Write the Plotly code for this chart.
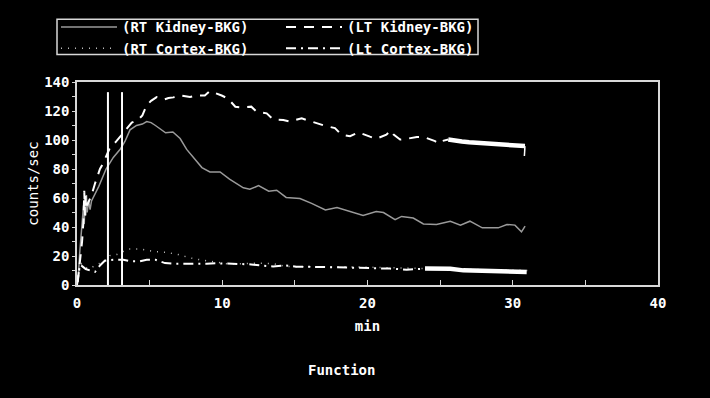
import plotly.graph_objects as go

# ---------------- data ----------------
rt_kidney_x = [0, 0.1, 0.2, 0.3, 0.4, 0.45, 0.5, 0.55, 0.6, 0.65, 0.7, 0.8, 0.9, 1.0, 1.5, 2.0, 2.5, 3.0,
               3.3, 3.65, 4.1, 4.5, 4.8, 5.1, 5.4, 5.8, 6.1, 6.6, 7.1, 7.55, 8.1, 8.6, 9.15, 9.85, 10.5,
               11.0, 11.45, 11.9, 12.5, 13.2, 13.75, 14.4, 15.35, 16.15, 17.1, 17.9, 18.8, 19.7, 20.6,
               21.1, 21.9, 22.35, 23.15, 23.85, 24.75, 25.7, 26.4, 27.05, 27.9, 29.0, 29.6, 30.15,
               30.6, 30.85]
rt_kidney_y = [0, 8, 24, 38, 46, 55, 42, 60, 48, 62, 50, 58, 52, 58, 68, 80, 88, 94,
               99, 107, 110, 111, 112.7, 112, 110, 107, 105, 105.5, 101, 93.5, 87, 81, 78, 78, 73,
               70, 67, 66, 68.5, 64.7, 65.4, 60.4, 59.7, 56.3, 51.8, 53.4, 50.7, 48, 50.7,
               50, 45, 47.3, 46.2, 42.1, 41.7, 44, 41.3, 44, 39.4, 39.4, 41.7, 41.3,
               36.7, 40.6]

lt_kidney_x = [0.05, 0.2, 0.35, 0.45, 0.5, 0.55, 0.6, 0.7, 0.85, 1.0, 1.24, 1.58, 1.8, 2.27, 2.7, 3.07,
               3.4, 3.77, 4.2, 4.5, 4.8, 5.1, 5.48, 5.95, 6.3, 6.63, 7.1, 7.78, 8.24, 8.8, 9.15, 9.96,
               10.4, 10.9, 11.34, 12.0, 12.37, 13.06, 13.5, 14.2, 14.66, 15.47, 15.8, 16.6, 17.07,
               17.76, 18.2, 18.8, 19.37, 20.17, 20.6, 21.3, 21.6, 21.8, 22.24, 22.7, 23.4, 23.85,
               24.65, 24.9, 25.1, 25.56]
lt_kidney_y = [2, 15, 30, 45, 65, 48, 62, 55, 58, 62, 70, 80, 84, 94.7, 99, 103.7,
               108, 112, 113.8, 117, 124, 127, 129.6, 127.8, 129, 129.4, 130.7, 129.6, 130.7, 130.7,
               133.7, 130.7, 128.5, 122.9, 122.4, 123, 119.5, 118.4, 114.3, 113.8, 112.7, 115, 113.8,
               111, 109.8, 108.2, 103.7, 102.6, 105.3, 102.3, 100.8, 103.7, 106.6, 103.7, 100.3,
               100.8, 102.1, 102.1, 99.2, 97.6, 99.2, 100.3]
# densely sampled tail of LT Kidney (drawn as a thick band)
lt_kidney_tail_x = [25.56, 26.0, 26.5, 27.0, 27.5, 28.0, 28.5, 29.0, 29.5, 30.0, 30.5, 30.84]
lt_kidney_tail_y = [100.3, 99.5, 99.0, 98.5, 98.2, 97.8, 97.5, 97.0, 96.5, 96.2, 95.8, 95.8]
lt_kidney_end_x = [30.84, 30.8]
lt_kidney_end_y = [95.8, 89]

rt_cortex_x = [0, 0.1, 0.2, 0.32, 0.6, 0.9, 1.24, 1.58, 2.04, 2.27, 2.73, 3.53, 4.34, 5.25, 6.17, 6.97,
               7.78, 8.47, 9.4, 10.3, 11.2, 12.6, 13.5, 14.4, 15.1, 17, 19, 21, 23, 25, 27, 29, 31]
rt_cortex_y = [0, 6, 12, 14.7, 12, 11.3, 13.5, 15, 17, 20.3, 21, 24.8, 24.8, 23.2, 22.5, 21,
               18.7, 17.4, 15.8, 14.7, 14.7, 15.1, 14.7, 12.8, 12.6, 12.8, 12.5, 12, 11.5, 11, 10.5, 10, 10]

lt_cortex_x = [0, 0.1, 0.2, 0.35, 0.6, 0.9, 1.24, 1.58, 1.93, 2.5, 3.19, 3.65, 4.34, 4.8, 5.4, 6.06,
               6.63, 7.55, 8.3, 8.93, 9.6, 10.76, 12.0, 12.6, 13.5, 14.4, 15.1, 17.0, 19.25, 21.55,
               22.7, 23.96]
lt_cortex_y = [0, 8, 14, 13, 11, 10, 9, 13.5, 16.9, 17.4, 17.4, 16.4, 16.4, 17.4, 17.4, 15.1,
               14.7, 14.7, 14.5, 14.7, 15, 14.7, 14.2, 13.5, 12.8, 13.5, 12.6, 12.4, 12, 11.3,
               10.6, 11.3]
lt_cortex_tail_x = [23.96, 25.0, 25.7, 26.6, 27.5, 28.5, 29.5, 30.2, 30.96]
lt_cortex_tail_y = [11.3, 11.3, 11.2, 10.1, 10.0, 9.7, 9.5, 9.3, 9.0]

markers_x = [2.13, 3.1]      # vertical marker lines (min)
marker_top = 133

x_ticks = [0, 10, 20, 30, 40]
y_ticks = [0, 20, 40, 60, 80, 100, 120, 140]

# ---------------- styling ----------------
FONT = "DejaVu Sans Mono"
WHITE = "#ffffff"
GRAY = "#9a9a9a"
AXIS = "#d8d8d8"
W, H = 710, 398
ML, MR, MT, MB = 77, 52, 78, 113
PW, PH = W - ML - MR, H - MT - MB


def px_x(p):
    return (p - ML) / PW


def px_y(p):
    return (H - MB - p) / PH


fig = go.Figure()
fig.add_trace(go.Scatter(x=rt_kidney_x, y=rt_kidney_y, mode="lines", name="(RT Kidney-BKG)",
                         legend="legend", line=dict(color=GRAY, width=1.5)))
fig.add_trace(go.Scatter(x=lt_kidney_x, y=lt_kidney_y, mode="lines", name="(LT Kidney-BKG)",
                         legend="legend2", line=dict(color=WHITE, width=2, dash="10px,8px")))
fig.add_trace(go.Scatter(x=rt_cortex_x, y=rt_cortex_y, mode="lines", name="(RT Cortex-BKG)",
                         legend="legend", line=dict(color="#bbbbbb", width=1.5, dash="1px,6px")))
fig.add_trace(go.Scatter(x=lt_cortex_x, y=lt_cortex_y, mode="lines", name="(Lt Cortex-BKG)",
                         legend="legend2", line=dict(color=WHITE, width=2, dash="10px,5px,2px,5px")))
# dense tails
fig.add_trace(go.Scatter(x=lt_kidney_tail_x, y=lt_kidney_tail_y, mode="lines", showlegend=False,
                         line=dict(color=WHITE, width=4.5)))
fig.add_trace(go.Scatter(x=lt_kidney_end_x, y=lt_kidney_end_y, mode="lines", showlegend=False,
                         line=dict(color=WHITE, width=1.5)))
fig.add_trace(go.Scatter(x=lt_cortex_tail_x, y=lt_cortex_tail_y, mode="lines", showlegend=False,
                         line=dict(color=WHITE, width=4.5)))

for mx in markers_x:
    fig.add_shape(type="line", x0=mx, x1=mx, y0=0, y1=marker_top, xref="x", yref="y",
                  line=dict(color=WHITE, width=2))

# legend frame
fig.add_shape(type="rect", xref="paper", yref="paper",
              x0=px_x(57), x1=px_x(478), y0=px_y(50), y1=px_y(14),
              line=dict(color=AXIS, width=1.5), fillcolor="rgba(0,0,0,0)", layer="above")

fig.add_annotation(text="Function", xref="paper", yref="paper", x=px_x(341), y=px_y(372),
                   xanchor="center", yanchor="middle",
                   showarrow=False, font=dict(family=FONT, size=14, color=WHITE, weight="bold"))

leg_common = dict(orientation="v", yanchor="top", xanchor="left", bgcolor="rgba(0,0,0,0)",
                  borderwidth=0, itemwidth=56, tracegroupgap=0,
                  font=dict(family=FONT, size=14, color=WHITE, weight="bold"))

fig.update_layout(
    width=W, height=H,
    paper_bgcolor="black", plot_bgcolor="black",
    margin=dict(l=ML, r=MR, t=MT, b=MB),
    font=dict(family=FONT, size=14, color=WHITE),
    showlegend=True,
    legend=dict(x=px_x(56), y=px_y(6), **leg_common),
    legend2=dict(x=px_x(281), y=px_y(6), **leg_common),
    xaxis=dict(range=[0, 40], tickvals=x_ticks, showline=True, mirror=True, linecolor=AXIS,
               linewidth=1.5, showgrid=False, zeroline=False, ticks="inside", ticklen=5,
               tickcolor=AXIS, automargin=False, ticklabelstandoff=4,
               minor=dict(dtick=5, ticks="inside", ticklen=5, tickcolor=AXIS),
               tickfont=dict(family=FONT, size=14, color=WHITE, weight="bold"),
               title=dict(text="min", standoff=12,
                          font=dict(family=FONT, size=14, color=WHITE, weight="bold"))),
    yaxis=dict(range=[0, 140], tickvals=y_ticks, showline=True, mirror=True, linecolor=AXIS,
               linewidth=1.5, showgrid=False, zeroline=False, ticks="outside", ticklen=3,
               tickcolor=AXIS, automargin=False,
               minor=dict(dtick=10, ticks="outside", ticklen=3, tickcolor=AXIS),
               tickfont=dict(family=FONT, size=14, color=WHITE, weight="bold"),
               title=dict(text="counts/sec", standoff=2,
                          font=dict(family=FONT, size=14, color=WHITE))),
)

fig.write_html("out.html",
               config={"displayModeBar": False},
               post_script="document.body.style.margin='0';"
                           "document.body.style.background='black';")
